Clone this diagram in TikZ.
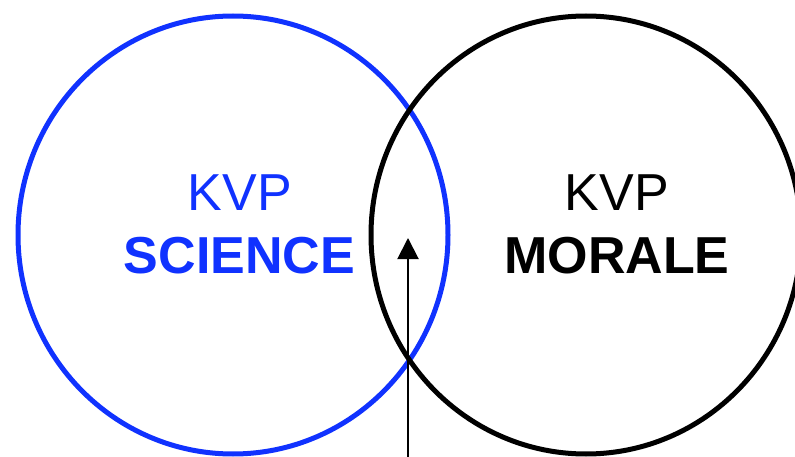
\documentclass[tikz,border=0pt]{standalone}
\usepackage{fontspec}
\setmainfont{Liberation Sans}
\usepackage{tikz}
\usetikzlibrary{shapes.geometric,arrows.meta}
\definecolor{kvpblue}{RGB}{16,50,255}

\begin{document}
\begin{tikzpicture}[x=1pt, y=-1pt, >={Triangle[length=21pt,width=21pt]},
    set/.style={ellipse, draw, line width=5pt, inner sep=0pt, minimum width=430pt, minimum height=438pt},
    word/.style={anchor=base, inner sep=0pt, font=\fontsize{52}{60}\selectfont}]
    \useasboundingbox (0, 0) rectangle (795, 457);
    \node[set, kvpblue] (science) at (233, 235) {};
    \node[set, black] (morale) at (586, 235) {};
    \node[word, kvpblue] (scitop) at (240, 211) {KVP};
    \node[word, kvpblue, font=\fontsize{52}{60}\selectfont\bfseries] (scibot) at (239.5, 273) {SCIENCE};
    \node[word] (mortop) at (617, 211) {KVP};
    \node[word, font=\fontsize{52}{60}\selectfont\bfseries] (morbot) at (617, 273) {MORALE};
    \coordinate (foot) at (408, 460);
    \coordinate (tip) at (408, 238);
    \draw[line width=2pt, ->] (foot) -- (tip);
\end{tikzpicture}
\end{document}
